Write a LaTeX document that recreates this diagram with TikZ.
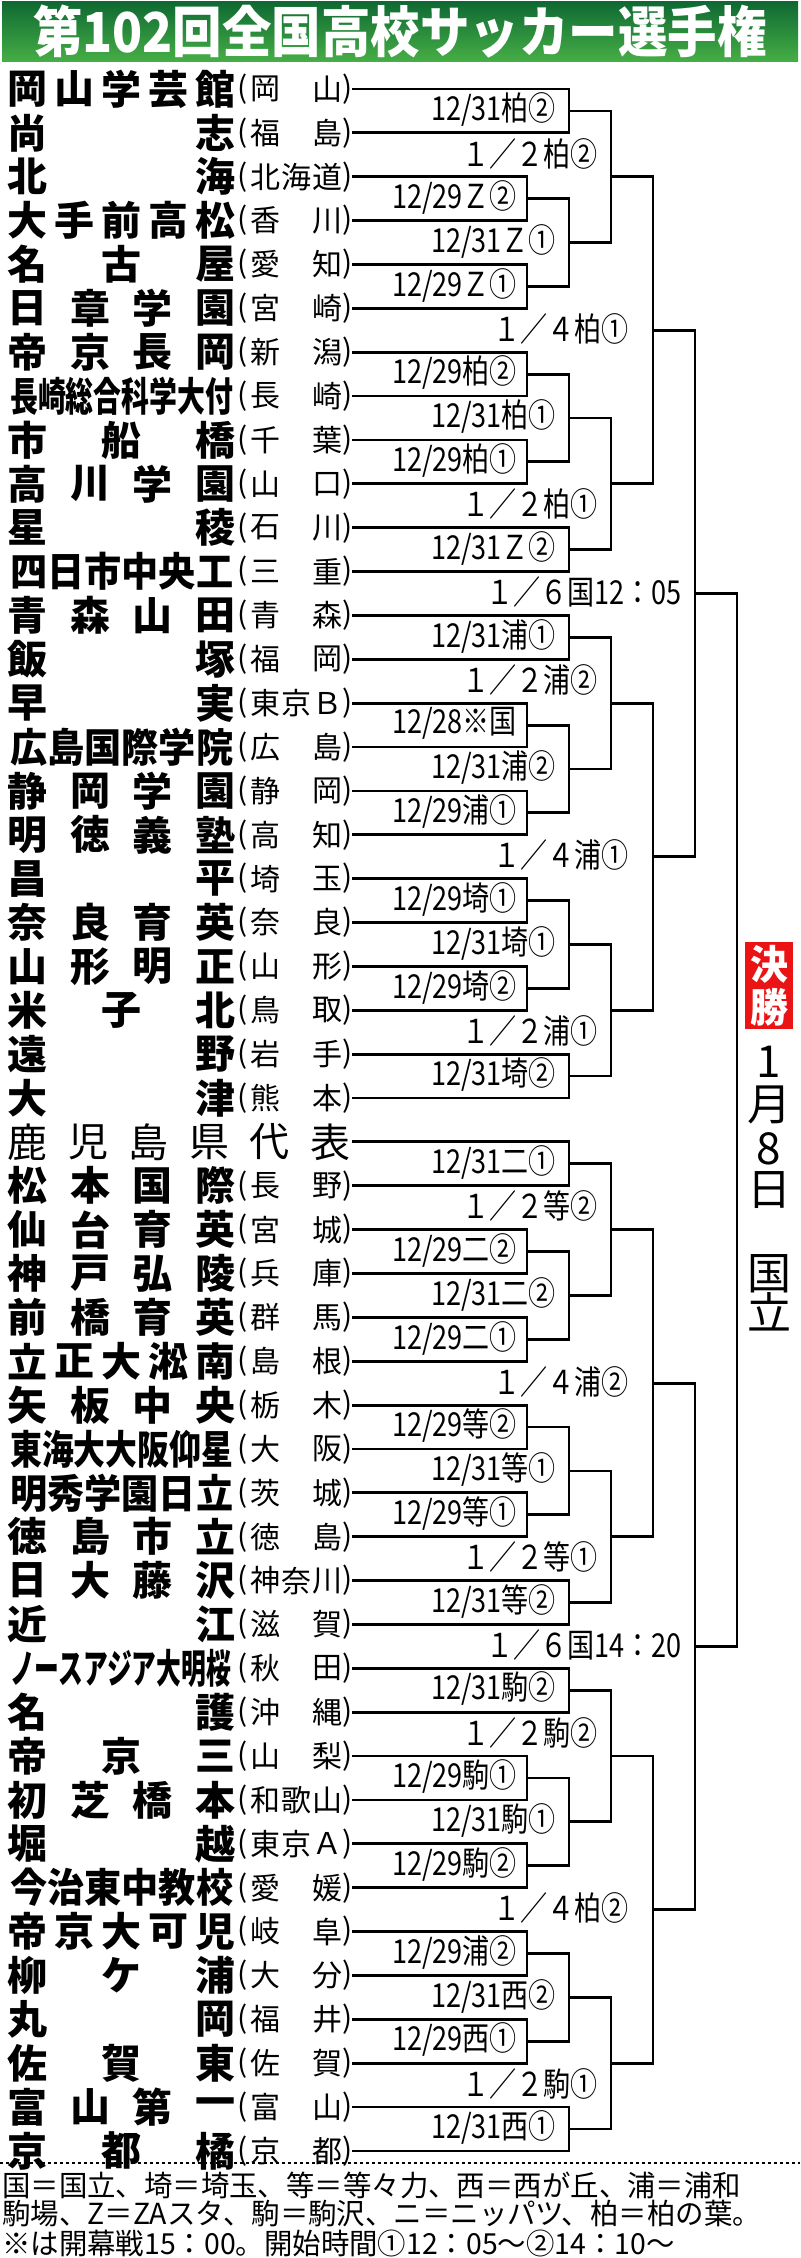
\documentclass[tikz,border=0pt]{standalone}
\usepackage{fontspec}
\usepackage{graphicx}
\newfontfamily\jp{Noto Sans CJK JP}
\usetikzlibrary{calc}
\definecolor{tgreenA}{RGB}{15,105,50}
\definecolor{tgreenB}{RGB}{70,175,70}
\definecolor{kred}{RGB}{235,20,20}
\newcommand\RY[1]{89+43.87*(#1)}
\tikzset{
  nm/.style={inner sep=0pt,font=\jp\bfseries\fontsize{40}{40}\selectfont},
  nmr/.style={inner sep=0pt,font=\jp\fontsize{40}{40}\selectfont},
  pfs/.style={inner sep=0pt,font=\jp\fontsize{30}{30}\selectfont},
  lbs/.style={inner sep=0pt,anchor=east,font=\jp\fontsize{33}{33}\selectfont},
  br/.style={line width=2.8pt,line join=miter}
}
\newcommand\tm[3]{\foreach \c [count=\k from 0] in {#3}{\node[nm] (t#1-\k) at ({28+187*\k/(#2-1)},{\RY{#1}}) {\c};}}
\newcommand\tl[3]{\node[nm,anchor=west] (t#1) at (10,{\RY{#1}}) {\scalebox{#2}[1]{#3}};}
\newcommand\pf[3]{\node[pfs] (pl#1) at (243,{\RY{#1}}) {(};\node[pfs] (pr#1) at (348,{\RY{#1}}) {)};
  \foreach \c [count=\k from 0] in {#3}{\node[pfs] (p#1-\k) at ({265+62*\k/(#2-1)},{\RY{#1}}) {\c};}}
\newcommand\lb[3]{\node[lbs] (l#1) at (#2,{\RY{#1+0.47}}) {\scalebox{0.82}[1]{#3}};}
\newcommand\pair[2]{\draw[br] (352,{\RY{#1}}) -- (#2,{\RY{#1}}) -- (#2,{\RY{#1+1}}) -- (352,{\RY{#1+1}});}
\newcommand\jn[5]{\draw[br] (#3,{\RY{#2}}) -- (#1,{\RY{#2}}) -- (#1,{\RY{#4}}) -- (#5,{\RY{#4}});}
\newcommand\grpA[1]{\pair{#1}{569}\pair{#1+2}{527}\pair{#1+4}{527}\jn{569}{#1+2.5}{527}{#1+4.5}{527}\jn{611}{#1+0.5}{569}{#1+3.5}{569}}
\newcommand\grpB[1]{\pair{#1}{527}\pair{#1+2}{527}\jn{569}{#1+0.5}{527}{#1+2.5}{527}\pair{#1+4}{569}\jn{611}{#1+1.5}{569}{#1+4.5}{569}}
\newcommand\qtr[1]{\grpA{#1}\grpB{#1+6}\jn{653}{#1+2}{611}{#1+9}{611}}
\newcommand\hlf[1]{\qtr{#1}\qtr{#1+12}\jn{695}{#1+5.5}{653}{#1+17.5}{653}}
\begin{document}
\begin{tikzpicture}[x=1pt,y=-1pt]
\useasboundingbox (0,0) rectangle (800,2258);
\fill[white] (0,0) rectangle (800,2258);
% title
\shade[top color=tgreenA,bottom color=tgreenB] (2,2) rectangle (798,62);
\node[inner sep=0pt,text=white,font=\jp\bfseries\fontsize{55}{55}\selectfont] (title) at (400,32) {\scalebox{0.9}[1]{第102回全国高校サッカー選手権}};
% teams
\tm{0}{5}{岡,山,学,芸,館}\pf{0}{2}{岡,山}
\tm{1}{2}{尚,志}\pf{1}{2}{福,島}
\tm{2}{2}{北,海}\pf{2}{3}{北,海,道}
\tm{3}{5}{大,手,前,高,松}\pf{3}{2}{香,川}
\tm{4}{3}{名,古,屋}\pf{4}{2}{愛,知}
\tm{5}{4}{日,章,学,園}\pf{5}{2}{宮,崎}
\tm{6}{4}{帝,京,長,岡}\pf{6}{2}{新,潟}
\tl{7}{0.697}{長崎総合科学大付}\pf{7}{2}{長,崎}
\tm{8}{3}{市,船,橋}\pf{8}{2}{千,葉}
\tm{9}{4}{高,川,学,園}\pf{9}{2}{山,口}
\tm{10}{2}{星,稜}\pf{10}{2}{石,川}
\tl{11}{0.929}{四日市中央工}\pf{11}{2}{三,重}
\tm{12}{4}{青,森,山,田}\pf{12}{2}{青,森}
\tm{13}{2}{飯,塚}\pf{13}{2}{福,岡}
\tm{14}{2}{早,実}\pf{14}{3}{東,京,Ｂ}
\tl{15}{0.929}{広島国際学院}\pf{15}{2}{広,島}
\tm{16}{4}{静,岡,学,園}\pf{16}{2}{静,岡}
\tm{17}{4}{明,徳,義,塾}\pf{17}{2}{高,知}
\tm{18}{2}{昌,平}\pf{18}{2}{埼,玉}
\tm{19}{4}{奈,良,育,英}\pf{19}{2}{奈,良}
\tm{20}{4}{山,形,明,正}\pf{20}{2}{山,形}
\tm{21}{3}{米,子,北}\pf{21}{2}{鳥,取}
\tm{22}{2}{遠,野}\pf{22}{2}{岩,手}
\tm{23}{2}{大,津}\pf{23}{2}{熊,本}
\foreach \c [count=\k from 0] in {鹿,児,島,県,代,表}{\node[nmr] (t24-\k) at ({28+302*\k/5},{\RY{24}}) {\c};}
\tm{25}{4}{松,本,国,際}\pf{25}{2}{長,野}
\tm{26}{4}{仙,台,育,英}\pf{26}{2}{宮,城}
\tm{27}{4}{神,戸,弘,陵}\pf{27}{2}{兵,庫}
\tm{28}{4}{前,橋,育,英}\pf{28}{2}{群,馬}
\tm{29}{5}{立,正,大,淞,南}\pf{29}{2}{島,根}
\tm{30}{4}{矢,板,中,央}\pf{30}{2}{栃,木}
\tl{31}{0.796}{東海大大阪仰星}\pf{31}{2}{大,阪}
\tl{32}{0.929}{明秀学園日立}\pf{32}{2}{茨,城}
\tm{33}{4}{徳,島,市,立}\pf{33}{2}{徳,島}
\tm{34}{4}{日,大,藤,沢}\pf{34}{3}{神,奈,川}
\tm{35}{2}{近,江}\pf{35}{2}{滋,賀}
\tl{36}{0.619}{ノースアジア大明桜}\pf{36}{2}{秋,田}
\tm{37}{2}{名,護}\pf{37}{2}{沖,縄}
\tm{38}{3}{帝,京,三}\pf{38}{2}{山,梨}
\tm{39}{4}{初,芝,橋,本}\pf{39}{3}{和,歌,山}
\tm{40}{2}{堀,越}\pf{40}{3}{東,京,Ａ}
\tl{41}{0.929}{今治東中教校}\pf{41}{2}{愛,媛}
\tm{42}{5}{帝,京,大,可,児}\pf{42}{2}{岐,阜}
\tm{43}{3}{柳,ケ,浦}\pf{43}{2}{大,分}
\tm{44}{2}{丸,岡}\pf{44}{2}{福,井}
\tm{45}{3}{佐,賀,東}\pf{45}{2}{佐,賀}
\tm{46}{4}{富,山,第,一}\pf{46}{2}{富,山}
\tm{47}{3}{京,都,橘}\pf{47}{2}{京,都}
% brackets
\hlf{0}
\hlf{24}
\jn{737}{11.5}{695}{35.5}{695}
% labels
\lb{0}{556}{12/31柏②}\lb{1}{598}{１／２柏②}\lb{2}{517}{12/29Ｚ②}\lb{3}{556}{12/31Ｚ①}
\lb{4}{517}{12/29Ｚ①}\lb{5}{629}{１／４柏①}\lb{6}{517}{12/29柏②}\lb{7}{556}{12/31柏①}
\lb{8}{517}{12/29柏①}\lb{9}{598}{１／２柏①}\lb{10}{556}{12/31Ｚ②}\lb{11}{682}{１／６国12：05}
\lb{12}{556}{12/31浦①}\lb{13}{598}{１／２浦②}\lb{14}{517}{12/28※国}\lb{15}{556}{12/31浦②}
\lb{16}{517}{12/29浦①}\lb{17}{629}{１／４浦①}\lb{18}{517}{12/29埼①}\lb{19}{556}{12/31埼①}
\lb{20}{517}{12/29埼②}\lb{21}{598}{１／２浦①}\lb{22}{556}{12/31埼②}
\lb{24}{556}{12/31二①}\lb{25}{598}{１／２等②}\lb{26}{517}{12/29二②}\lb{27}{556}{12/31二②}
\lb{28}{517}{12/29二①}\lb{29}{629}{１／４浦②}\lb{30}{517}{12/29等②}\lb{31}{556}{12/31等①}
\lb{32}{517}{12/29等①}\lb{33}{598}{１／２等①}\lb{34}{556}{12/31等②}\lb{35}{682}{１／６国14：20}
\lb{36}{556}{12/31駒②}\lb{37}{598}{１／２駒②}\lb{38}{517}{12/29駒①}\lb{39}{556}{12/31駒①}
\lb{40}{517}{12/29駒②}\lb{41}{629}{１／４柏②}\lb{42}{517}{12/29浦②}\lb{43}{556}{12/31西②}
\lb{44}{517}{12/29西①}\lb{45}{598}{１／２駒①}\lb{46}{556}{12/31西①}
% final
\fill[kred] (745,942) rectangle (793,1029);
\node[inner sep=0pt,text=white,font=\jp\bfseries\fontsize{40}{40}\selectfont] (k1) at (769,964) {\scalebox{0.95}[1]{決}};
\node[inner sep=0pt,text=white,font=\jp\bfseries\fontsize{40}{40}\selectfont] (k2) at (769,1007) {\scalebox{0.95}[1]{勝}};
\foreach \c/\yy [count=\k] in {1/1062,月/1105,8/1149,日/1190,国/1274,立/1312}
  {\node[inner sep=0pt,font=\jp\fontsize{44}{44}\selectfont] (d\k) at (769,\yy) {\c};}
% footer
\draw[line width=1.5pt,dash pattern=on 3pt off 3pt] (0,2163) -- (800,2163);
\node[inner sep=0pt,anchor=west,font=\jp\fontsize{29}{29}\selectfont] (f1) at (2,2185) {\scalebox{0.98}[1]{国＝国立、埼＝埼玉、等＝等々力、西＝西が丘、浦＝浦和}};
\node[inner sep=0pt,anchor=west,font=\jp\fontsize{29}{29}\selectfont] (f2) at (2,2214) {\scalebox{0.98}[1]{駒場、Z＝ZAスタ、駒＝駒沢、ニ＝ニッパツ、柏＝柏の葉。}};
\node[inner sep=0pt,anchor=west,font=\jp\fontsize{29}{29}\selectfont] (f3) at (2,2243) {\scalebox{0.98}[1]{※は開幕戦15：00。開始時間①12：05～②14：10～}};
\end{tikzpicture}
\end{document}
